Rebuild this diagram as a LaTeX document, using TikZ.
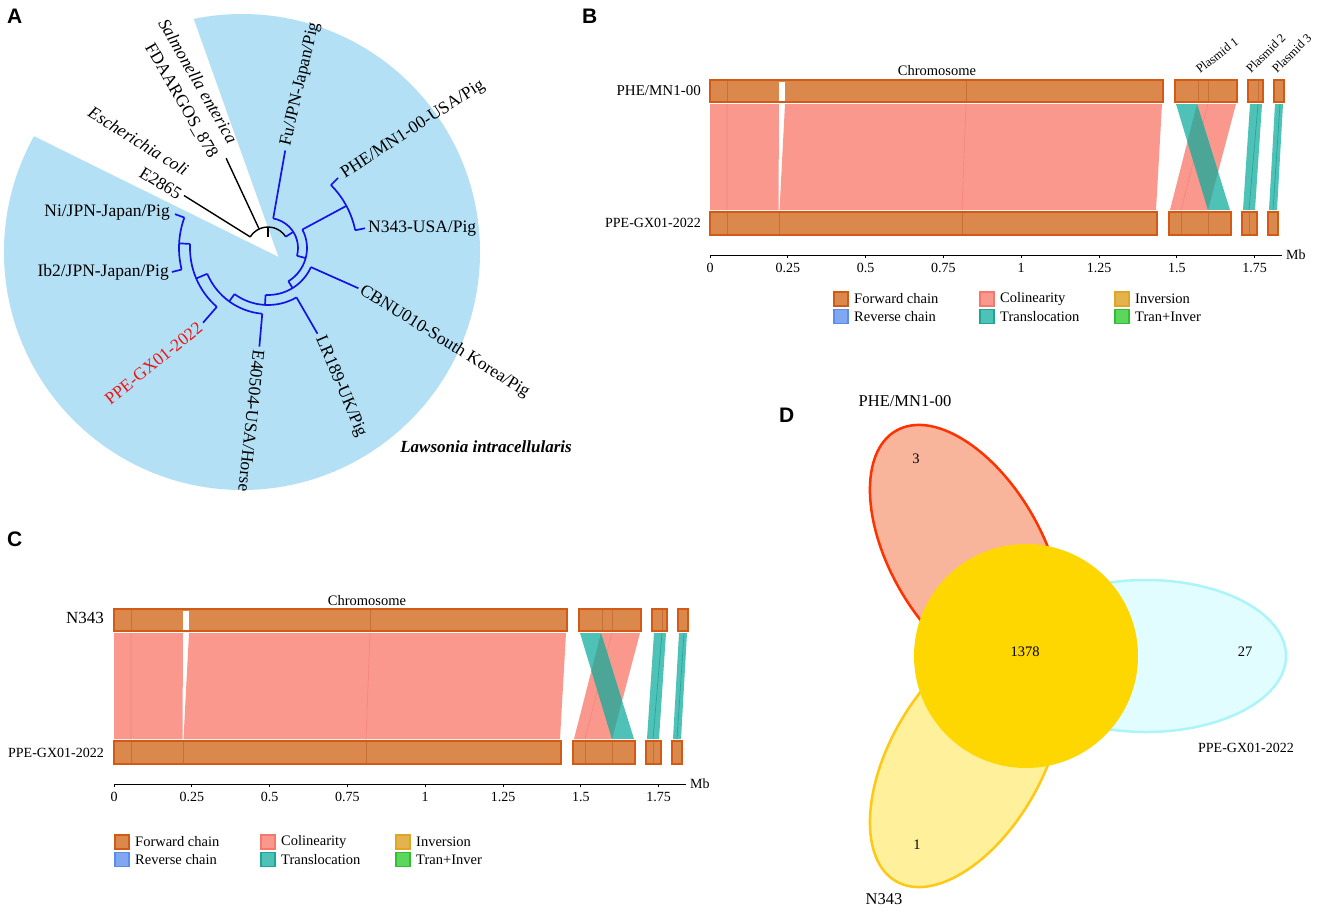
\documentclass[tikz,border=0pt]{standalone}
\usepackage{fontspec}
\setmainfont{Liberation Serif}
\newfontfamily\panelfont{Liberation Sans}
\usetikzlibrary{calc,shapes.geometric}
\definecolor{fanblue}{RGB}{179,224,245}
\definecolor{treeblue}{RGB}{20,20,230}
\definecolor{barfill}{RGB}{218,136,76}
\definecolor{barline}{RGB}{210,90,20}
\definecolor{bardiv}{RGB}{200,110,55}
\definecolor{colin}{RGB}{250,152,142}
\definecolor{colinline}{RGB}{245,120,110}
\definecolor{colindiv}{RGB}{244,132,122}
\definecolor{trans}{RGB}{78,194,183}
\definecolor{transdk}{RGB}{75,166,152}
\definecolor{transline}{RGB}{30,165,152}
\definecolor{revfill}{RGB}{128,168,240}
\definecolor{revline}{RGB}{90,140,235}
\definecolor{invfill}{RGB}{227,180,78}
\definecolor{invline}{RGB}{222,165,40}
\definecolor{tifill}{RGB}{92,214,92}
\definecolor{tiline}{RGB}{50,190,50}
\definecolor{redfill}{RGB}{249,181,156}
\definecolor{redline}{RGB}{255,50,0}
\definecolor{yelfill}{RGB}{255,240,156}
\definecolor{yelline}{RGB}{255,200,20}
\definecolor{cyfill}{RGB}{226,253,255}
\definecolor{cyline}{RGB}{170,245,250}
\definecolor{coregold}{RGB}{255,215,0}
\definecolor{ppered}{RGB}{240,20,20}
\newcommand{\rr}[4][]{\draw[#1] ($(C)+(#2:#3)$) -- ($(C)+(#2:#4)$);}
\newcommand{\tarc}[4][]{\draw[#1] ($(C)+(#2:#4)$) arc[start angle=#2,end angle=#3,radius=#4];}
\newcommand{\synbody}{%
\fill[colin] (710,-104) -- (779,-104) -- (778.5,-210) -- (710,-210) -- cycle;
\fill[colin] (785,-104) -- (1162,-104) -- (1156,-210) -- (779.5,-210) -- cycle;
\draw[cdiv] (727,-104) -- (727,-210) (966,-104) -- (962,-210);
\fill[colin] (1197,-104) -- (1236,-104) -- (1208,-210) -- (1170,-210) -- cycle;
\draw[cdiv] (1208,-104) -- (1181,-210);
\fill[trans] (1176,-104) -- (1197,-104) -- (1230,-210) -- (1208,-210) -- cycle;
\begin{scope}
\clip (1197,-104) -- (1236,-104) -- (1208,-210) -- (1170,-210) -- cycle;
\fill[transdk] (1176,-104) -- (1197,-104) -- (1230,-210) -- (1208,-210) -- cycle;
\end{scope}
\fill[trans] (1250,-104) -- (1262,-104) -- (1255,-210) -- (1243,-210) -- cycle;
\draw[tdiv] (1258,-104) -- (1249,-210);
\fill[trans] (1275,-104) -- (1283,-104) -- (1277,-210) -- (1269,-210) -- cycle;
\draw[tdiv] (1280,-104) -- (1273,-210);
\draw[bar] (710,-80) rectangle (1163,-102);
\fill[white] (779,-81.5) rectangle (785,-100.5);
\draw[bdiv] (727,-81) -- (727,-101) (966,-81) -- (966,-101);
\draw[bar] (1175,-80) rectangle (1237,-102);
\draw[bdiv] (1198,-81) -- (1198,-101) (1208,-81) -- (1208,-101);
\draw[bar] (1248,-80) rectangle (1263,-102);
\draw[bdiv] (1258,-81) -- (1258,-101);
\draw[bar] (1274,-80) rectangle (1284,-102);
\draw[bar] (710,-212) rectangle (1157,-235);
\draw[bdiv] (727,-213) -- (727,-234) (779,-213) -- (779,-234) (962,-213) -- (962,-234);
\draw[bar] (1169,-212) rectangle (1231,-235);
\draw[bdiv] (1181,-213) -- (1181,-234) (1208,-213) -- (1208,-234);
\draw[bar] (1242,-212) rectangle (1257,-235);
\draw[bdiv] (1249,-213) -- (1249,-234);
\draw[bar] (1268,-212) rectangle (1278,-235);
\draw[axisl] (710,-255) -- (1282,-255);
\foreach \k/\lab in {0/0,1/0.25,2/0.5,3/0.75,4/1,5/1.25,6/1.5,7/1.75}{%
  \draw[axisl] ({710+77.8*\k},-255) -- ++(0,-3);
  \node[smallt] (tick\k) at ({710+77.8*\k},-268) {\lab};}
\node[smallt, anchor=west] (mb) at (1286,-255) {Mb};
}
\newcommand{\legendblock}[2]{%
\begin{scope}[shift={(#1,#2)}]
\draw[sw, fill=barfill, draw=barline] (0,7) rectangle (14,-7);
\node[legt] (lg1) at (20,0) {Forward chain};
\draw[sw, fill=revfill, draw=revline] (0,-10.5) rectangle (14,-24.5);
\node[legt] (lg2) at (20,-17.5) {Reverse chain};
\draw[sw, fill=colin, draw=colinline] (146,7) rectangle (160,-7);
\node[legt] (lg3) at (166,0) {Colinearity};
\draw[sw, fill=trans, draw=transline] (146,-10.5) rectangle (160,-24.5);
\node[legt] (lg4) at (166,-17.5) {Translocation};
\draw[sw, fill=invfill, draw=invline] (281,7) rectangle (295,-7);
\node[legt] (lg5) at (301,0) {Inversion};
\draw[sw, fill=tifill, draw=tiline] (281,-10.5) rectangle (295,-24.5);
\node[legt] (lg6) at (301,-17.5) {Tran+Inver};
\end{scope}}
\begin{document}
\begin{tikzpicture}[x=1pt,y=1pt,
  tl/.style={font=\fontsize{17.5}{21}\selectfont, inner sep=1pt},
  tb/.style={draw=treeblue, line width=1.7pt},
  tk/.style={draw=black, line width=1.4pt},
  pl/.style={font=\panelfont\bfseries\fontsize{21}{24}\selectfont, inner sep=0pt, anchor=base west},
  bar/.style={fill=barfill, draw=barline, line width=1.8pt},
  bdiv/.style={draw=bardiv, line width=0.7pt},
  cdiv/.style={draw=colindiv, line width=0.6pt},
  tdiv/.style={draw=transline, line width=0.6pt},
  axisl/.style={draw=black, line width=0.9pt},
  smallt/.style={font=\fontsize{14}{16}\selectfont, inner sep=0pt},
  plas/.style={font=\fontsize{12.5}{14}\selectfont, inner sep=0pt, anchor=base west},
  legt/.style={font=\fontsize{14.5}{16}\selectfont, inner sep=0pt, anchor=west},
  sw/.style={line width=1.2pt},
  venn/.style={font=\fontsize{14.5}{16}\selectfont, inner sep=0pt},
  petal/.style={ellipse, minimum width=280, minimum height=152, inner sep=0pt, line width=2.5pt}
]
\useasboundingbox (0,0) rectangle (1325,-911);
\fill[white] (0,0) rectangle (1325,-911);
% ---------- Panel A ----------
\fill[fanblue] (242,-252) circle[radius=238];
\coordinate (apex) at (278.3,-256.7);
\fill[white] (apex) -- ++(-132,370.5) -- ++(-232.5,-190.5) -- cycle;
\coordinate (C) at (268,-248);
\tarc[tk]{32.5}{148}{21}
\rr[tk]{90}{11}{21}
\rr[tk]{115}{21}{99}
\rr[tk]{148}{21}{99}
\rr[tb]{32.5}{21}{30}
\tarc[tb]{-15}{80}{30}
\rr[tb]{80}{30}{99}
\rr[tb]{-15}{30}{39}
\tarc[tb]{-58.5}{28.25}{39}
\rr[tb]{28.25}{39}{89}
\tarc[tb]{11.5}{45}{89}
\rr[tb]{45}{89}{99}
\rr[tb]{11.5}{89}{99}
\rr[tb]{-58.5}{39}{47}
\tarc[tb]{-93}{-24}{47}
\rr[tb]{-24}{47}{99}
\rr[tb]{-93}{47}{57}
\tarc[tb]{-126}{-60}{57}
\rr[tb]{-60}{57}{99}
\rr[tb]{-126}{57}{66}
\tarc[tb]{-157}{-95}{66}
\rr[tb]{-95}{66}{99}
\rr[tb]{-157}{66}{78}
\tarc[tb]{-183}{-131}{78}
\rr[tb]{-131}{78}{99}
\rr[tb]{-183}{78}{89}
\tarc[tb]{-200}{-166}{89}
\rr[tb]{-200}{89}{99}
\rr[tb]{-166}{89}{99}
\node[tl, anchor=west, rotate=77] (fu) at (286,-147) {Fu/JPN-Japan/Pig};
\node[tl, anchor=west, rotate=33] (phe) at (342,-176) {PHE/MN1-00-USA/Pig};
\node[tl, anchor=west] (n343) at (367,-229) {N343-USA/Pig};
\node[tl, anchor=west, rotate=-32] (cbnu) at (360,-289) {CBNU010-South Korea/Pig};
\node[tl, anchor=west, rotate=-67] (lr) at (319,-336) {LR189-UK/Pig};
\node[tl, anchor=west, rotate=-96] (e40) at (259,-349) {E40504-USA/Horse};
\node[tl, anchor=east, rotate=39, text=ppered] (ppe) at (201,-325) {PPE-GX01-2022};
\node[tl, anchor=east] (ib2) at (170,-272) {Ib2/JPN-Japan/Pig};
\node[tl, anchor=east] (ni) at (171,-213) {Ni/JPN-Japan/Pig};
\node[tl, anchor=east, rotate=-32] (ec2) at (181,-196) {E2865};
\node[tl, anchor=east, rotate=-32] (ec1) at (188,-172) {\itshape Escherichia coli};
\node[tl, anchor=east, rotate=-60] (sa1) at (234,-143) {\itshape Salmonella enterica};
\node[tl, anchor=east, rotate=-60] (sa2) at (214,-158) {FDAARGOS\_878};
\node[font=\bfseries\itshape\fontsize{17}{20}\selectfont] (law) at (486,-447) {Lawsonia intracellularis};
\node[pl] (labA) at (7,-23) {A};
% ---------- Panel B ----------
\node[pl] (labB) at (582,-23) {B};
\synbody
\node[smallt, font=\fontsize{14.5}{16}\selectfont] (chrB) at (937,-71) {Chromosome};
\node[plas, rotate=38] (pl1) at (1200,-74) {Plasmid 1};
\node[plas, rotate=45] (pl2) at (1251,-74) {Plasmid 2};
\node[plas, rotate=45] (pl3) at (1277,-74) {Plasmid 3};
\node[anchor=east, inner sep=1pt, font=\fontsize{15}{17}\selectfont] (bphe) at (702,-91) {PHE/MN1-00};
\node[anchor=east, inner sep=1pt, font=\fontsize{14}{16}\selectfont] (bppe) at (702,-223) {PPE-GX01-2022};
\legendblock{834}{-299}
% ---------- Panel C ----------
\node[pl] (labC) at (7,-546) {C};
\begin{scope}[shift={(-596,-529)}]
\synbody
\end{scope}
\node[smallt, font=\fontsize{14.5}{16}\selectfont] (chrC) at (367,-601) {Chromosome};
\node[anchor=east, inner sep=1pt, font=\fontsize{17}{19}\selectfont] (cn) at (105,-618) {N343};
\node[anchor=east, inner sep=1pt, font=\fontsize{14}{16}\selectfont] (cppe) at (105,-753) {PPE-GX01-2022};
\legendblock{115}{-842}
% ---------- Panel D ----------
\node[pl] (labD) at (779,-422) {D};
\node[petal, fill=redfill, draw=redline, rotate=120] (pred) at (966,-552) {};
\node[petal, fill=yelfill, draw=yelline, rotate=240] (pyel) at (966,-760) {};
\node[petal, fill=cyfill, draw=cyline] (pcy) at (1146,-656) {};
\node[circle, fill=coregold, minimum size=224, inner sep=0pt] (core) at (1026,-656) {};
\node[venn] (v3) at (916,-459) {3};
\node[venn] (v1) at (917,-845) {1};
\node[venn] (v27) at (1245,-652) {27};
\node[venn] (v1378) at (1025,-652) {1378};
\node[font=\fontsize{16.5}{18}\selectfont, inner sep=0pt] (dphe) at (905,-401) {PHE/MN1-00};
\node[font=\fontsize{14}{16}\selectfont, inner sep=0pt] (dppe) at (1246,-748) {PPE-GX01-2022};
\node[font=\fontsize{16.5}{18}\selectfont, inner sep=0pt] (dn) at (884,-899) {N343};
\end{tikzpicture}
\end{document}
